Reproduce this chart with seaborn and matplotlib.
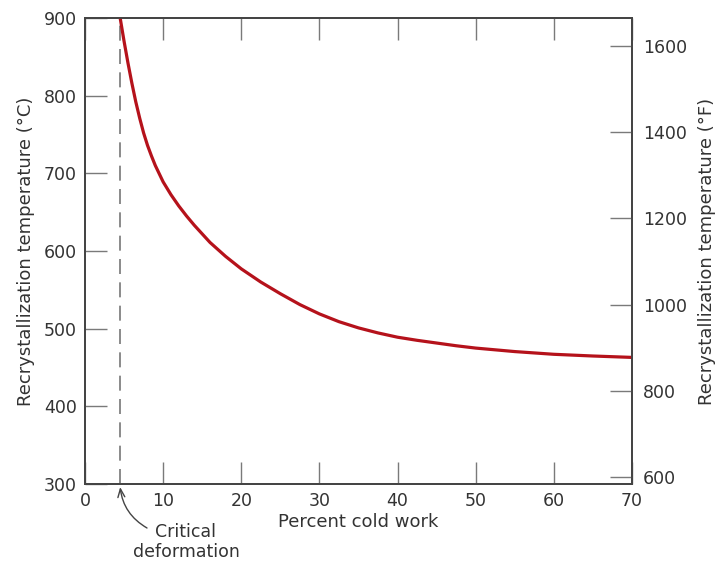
import numpy as np
import pandas as pd
import matplotlib
matplotlib.use('Agg')
import matplotlib.pyplot as plt
import seaborn as sns

# Values
cold_work = [4.5, 5, 5.5, 6, 6.5, 7, 7.5, 8, 8.5, 9, 10, 11, 12, 13, 14, 16, 18,
             20, 22.5, 25, 27.5, 30, 32.5, 35, 37.5, 40, 42.5, 45, 47.5, 50, 55, 60, 65, 70]
recryst_c = [900, 870, 842, 816, 792, 771, 752, 736, 722.5, 710, 689, 672.5, 658, 645, 633, 611, 593,
             577, 560, 545, 531, 519, 509, 501, 494.5, 489, 485, 481.5, 478, 475, 470.5, 467, 464.8, 463]
critical_x = 4.5
x_ticks = [0, 10, 20, 30, 40, 50, 60, 70]
c_ticks = [300, 400, 500, 600, 700, 800, 900]
f_ticks = [600, 800, 1000, 1200, 1400, 1600]

data = pd.DataFrame({'cold_work': cold_work, 'temp': recryst_c})

sns.set_style('ticks')
plt.rcParams['font.family'] = ['DejaVu Sans']

text_col = '#333333'
tick_col = '#7a7a7a'

fig = plt.figure(figsize=(7.15, 5.62), dpi=100)
ax = fig.add_axes([85/715, 78/562, 547/715, 466/562])

# critical deformation line
ax.plot([critical_x, critical_x], [300, 900], color='#777777', lw=1.2,
        dashes=(9, 5), zorder=1)

sns.lineplot(x='cold_work', y='temp', data=data, ax=ax, color='#b5121b', lw=2.3, zorder=3)

ax.set_xlim(0, 70)
ax.set_ylim(300, 900)
ax.set_xticks(x_ticks)
ax.set_yticks(c_ticks)
ax.set_xlabel('Percent cold work', fontsize=13, color=text_col, labelpad=2)
ax.set_ylabel('Recrystallization temperature (°C)', fontsize=13, color=text_col, labelpad=6)
ax.tick_params(axis='both', direction='in', length=16, width=1, color=tick_col,
               labelsize=12.5, labelcolor=text_col)
ax.tick_params(axis='x', top=True, pad=6)
ax.tick_params(axis='y', pad=6)

# Fahrenheit axis
ax2 = ax.twinx()
ax2.set_ylim(584, 1665)
ax2.set_yticks(f_ticks)
ax2.set_ylabel('Recrystallization temperature (°F)', fontsize=13, color=text_col, labelpad=8)
ax2.tick_params(axis='y', direction='in', length=16, width=1, color=tick_col,
                labelsize=12.5, labelcolor=text_col, pad=8)

for a in (ax, ax2):
    for s in a.spines.values():
        s.set_visible(True)
        s.set_color('#444444')
        s.set_linewidth(1.3)

# annotation
ax.annotate('', xy=(critical_x, 296), xycoords='data',
            xytext=(147/715, (562-528)/562), textcoords='figure fraction',
            arrowprops=dict(arrowstyle='->,head_length=0.6,head_width=0.25',
                            color='#444444', lw=1, connectionstyle='arc3,rad=-0.25',
                            shrinkA=0, shrinkB=0),
            annotation_clip=False)
fig.text(186/715, (562-542)/562, 'Critical\ndeformation', ha='center', va='center',
         fontsize=12.5, color=text_col, linespacing=1.15)

fig.savefig('out.png', dpi=100)
